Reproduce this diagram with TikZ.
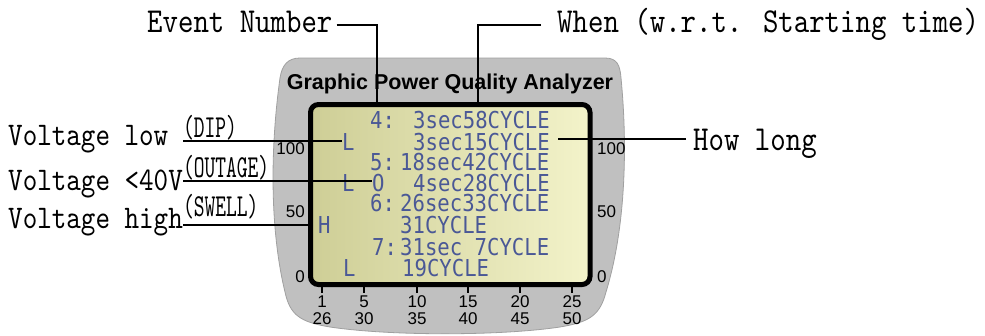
\documentclass[tikz,border=0pt]{standalone}
\usepackage{fontspec}
\usepackage{tikz}
\usetikzlibrary{positioning,calc}
\newfontfamily\callfont{lmmono10-regular.otf}[FakeStretch=0.84]
\newfontfamily\tagfont{lmmono10-regular.otf}[FakeStretch=0.64]
\newfontfamily\lcdfont{DejaVu Sans Mono}[FakeStretch=0.885]
\newfontfamily\panelfont{Liberation Sans}
\definecolor{bodygray}{RGB}{192,192,192}
\definecolor{bodyedge}{RGB}{160,160,160}
\definecolor{lcdleft}{RGB}{206,206,150}
\definecolor{lcdright}{RGB}{243,243,202}
\definecolor{lcdink}{RGB}{74,88,150}

\begin{document}
\begin{tikzpicture}[x=1bp, y=-1bp,
    callout/.style={font=\callfont\fontsize{35bp}{40bp}\selectfont, inner sep=0pt, anchor=base west},
    sidelabel/.style={callout, font=\callfont\fontsize{33bp}{38bp}\selectfont},
    tag/.style={font=\tagfont\fontsize{32bp}{36bp}\selectfont, inner sep=0pt, text depth=3.5bp, anchor=base west},
    lcd/.style={font=\lcdfont\fontsize{23.3bp}{26bp}\selectfont, text=lcdink, inner sep=0pt, text height=17bp, text depth=0pt, anchor=west},
    axisnum/.style={font=\panelfont\fontsize{17bp}{19bp}\selectfont, inner sep=0pt},
    title/.style={font=\panelfont\bfseries\fontsize{21.5bp}{24bp}\selectfont, inner sep=0pt, anchor=base},
    leader/.style={line width=2.2bp, black},
    screen/.style={draw=black, line width=5bp, rounded corners=8bp, left color=lcdleft, right color=lcdright, minimum width=279.5bp, minimum height=180bp, inner sep=0pt}
  ]
  \useasboundingbox[fill=white] (0,0) rectangle (985,335);

  \filldraw[fill=bodygray, draw=bodyedge, line width=0.8bp]
    (300,58) -- (605,58) .. controls (617,58) and (620,65) .. (621,78)
    .. controls (628,150) and (625,230) .. (606,292)
    .. controls (600,315) and (590,322) .. (560,327)
    .. controls (500,336) and (390,336) .. (330,327)
    .. controls (300,322) and (290,315) .. (285,292)
    .. controls (270,230) and (270,150) .. (280,78)
    .. controls (282,65) and (288,58) .. (300,58) -- cycle;

  \node[title] (title) at (450,89) {Graphic Power Quality Analyzer};
  \node[screen] (screen) at (450.25,194.5) {};

  \node[lcd] (n4) at (370,120) {4:};
  \node[lcd] (t1) at (413,120) {3sec58CYCLE};
  \node[lcd] (L1) at (342,142) {L};
  \node[lcd] (t2) at (413,142) {3sec15CYCLE};
  \node[lcd] (n5) at (370,162) {5:};
  \node[lcd] (t3) at (400,162) {18sec42CYCLE};
  \node[lcd] (L2) at (342,183) {L};
  \node[lcd] (z2) at (372,183) {O};
  \node[lcd] (t4) at (413,183) {4sec28CYCLE};
  \node[lcd] (n6) at (370,203) {6:};
  \node[lcd] (t5) at (400,203) {26sec33CYCLE};
  \node[lcd] (H3) at (318,225) {H};
  \node[lcd] (t6) at (400,225) {31CYCLE};
  \node[lcd] (n7) at (372,247) {7:};
  \node[lcd] (t7) at (400,247) {31sec 7CYCLE};
  \node[lcd] (L4) at (343,268) {L};
  \node[lcd] (t8) at (402,268) {19CYCLE};

  \node[axisnum, anchor=east] (yl100) at (305,149) {100};
  \node[axisnum, anchor=east] (yl50) at (305,212) {50};
  \node[axisnum, anchor=east] (yl0) at (305,277) {0};
  \node[axisnum, anchor=west] (yr100) at (597,149) {100};
  \node[axisnum, anchor=west] (yr50) at (597,212) {50};
  \node[axisnum, anchor=west] (yr0) at (597,277) {0};

  \foreach \x/\up/\lo in {322/1/26, 364/5/30, 417/10/35, 468/15/40, 520/20/45, 572/25/50} {
    \draw[line width=1.8bp] (\x,287) -- (\x,293);
    \node[axisnum] (tu\up) at (\x,302) {\up};
    \node[axisnum] (tl\lo) at (\x,319) {\lo};
  }

  \node[callout] (evnum) at (147,32) {Event Number};
  \node[callout] (when) at (557,32) {When (w.r.t. Starting time)};
  \node[callout] (howlong) at (693,150) {How long};
  \node[sidelabel] (vlow) at (8,145) {Voltage low};
  \node[sidelabel] (vout) at (8,190) {Voltage <40V};
  \node[sidelabel] (vhigh) at (8,228) {Voltage high};
  \node[tag] (dip) at (183,137) {(DIP)};
  \node[tag] (outage) at (183,177.5) {(OUTAGE)};
  \node[tag, text depth=8bp] (swell) at (183,216.5) {(SWELL)};

  \coordinate (evpt) at (377,104);
  \coordinate (whenpt) at (478,104);
  \coordinate (hlstart) at ([xshift=-7bp,yshift=11bp]howlong.base west);

  \draw[leader] ([xshift=4bp,yshift=7bp]evnum.base east) -| (evpt);
  \draw[leader] ([xshift=-16bp,yshift=7bp]when.base west) -| (whenpt);
  \draw[leader] (hlstart) -- ($(hlstart -| t2.east)+(8,0)$);
  \draw[leader] (dip.south west) -- (dip.south west -| L1.west);
  \draw[leader] (outage.south west) -- (outage.south west -| z2.west);
  \draw[leader] (swell.south west) -- (swell.south west -| screen.west);
\end{tikzpicture}
\end{document}
